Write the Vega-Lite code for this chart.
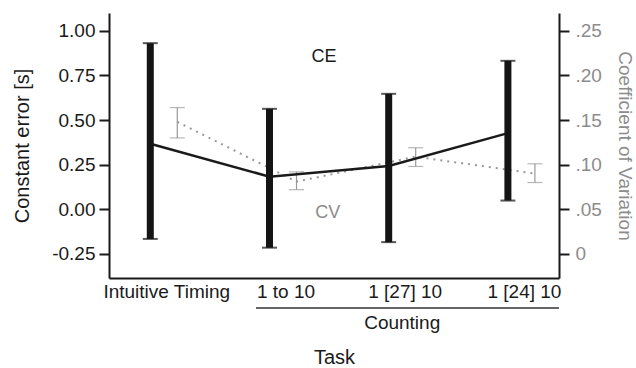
{
  "$schema": "https://vega.github.io/schema/vega-lite/v6.json",
  "autosize": {"type": "none"},
  "padding": {"left": 109, "top": 13, "right": 77, "bottom": 90},
  "width": 450,
  "height": 265,
  "config": {
    "font": "Liberation Sans",
    "view": {"stroke": null},
    "axis": {
      "grid": false,
      "domainColor": "#1a1a1a",
      "domainWidth": 2,
      "tickColor": "#1a1a1a",
      "tickWidth": 2,
      "labelFontSize": 19,
      "titleFontSize": 20,
      "titleFontWeight": "normal",
      "labelColor": "#1a1a1a",
      "titleColor": "#1a1a1a"
    },
    "axisX": {"ticks": false, "labelAngle": 0, "labelPadding": 4, "titlePadding": 46, "labelOffset": 3},
    "text": {"fontSize": 19}
  },
  "datasets": {
    "ce": [
      {"Task": "Intuitive Timing", "series": "CE", "mean": 0.367, "lo": -0.166, "hi": 0.931},
      {"Task": "1 to 10", "series": "CE", "mean": 0.183, "lo": -0.215, "hi": 0.563},
      {"Task": "1 [27] 10", "series": "CE", "mean": 0.243, "lo": -0.184, "hi": 0.647},
      {"Task": "1 [24] 10", "series": "CE", "mean": 0.427, "lo": 0.049, "hi": 0.832}
    ],
    "cv": [
      {"Task": "Intuitive Timing", "series": "CV", "mean": 0.148, "lo": 0.130, "hi": 0.164},
      {"Task": "1 to 10", "series": "CV", "mean": 0.081, "lo": 0.072, "hi": 0.092},
      {"Task": "1 [27] 10", "series": "CV", "mean": 0.109, "lo": 0.098, "hi": 0.119},
      {"Task": "1 [24] 10", "series": "CV", "mean": 0.090, "lo": 0.080, "hi": 0.101}
    ]
  },
  "encoding": {
    "x": {
      "field": "Task",
      "type": "nominal",
      "sort": null,
      "title": "Task",
      "scale": {"paddingInner": 0.547, "paddingOuter": 0.161, "align": 0.724}
    }
  },
  "layer": [
    {
      "layer": [
        {
          "data": {"name": "cv"},
          "mark": {"type": "line", "color": "#999999", "strokeWidth": 2, "strokeDash": [2, 5]},
          "encoding": {
            "xOffset": {"field": "series", "type": "nominal"},
            "y": {
              "field": "mean",
              "type": "quantitative",
              "scale": {"domain": [-0.027, 0.27], "nice": false, "zero": false},
              "axis": {
                "orient": "right",
                "title": "Coefficient of Variation",
                "values": [0, 0.025, 0.05, 0.075, 0.1, 0.125, 0.15, 0.175, 0.2, 0.225, 0.25],
                "labelExpr": "abs(datum.value*20 - round(datum.value*20)) < 0.001 ? (datum.value == 0 ? '0' : replace(format(datum.value, '.2f'), '0.', '.')) : ''",
                "tickSize": {"condition": {"test": "abs(datum.value*20 - round(datum.value*20)) < 0.001", "value": 10}, "value": 5},
                "labelColor": "#8c8c8c",
                "titleColor": "#8c8c8c",
                "titleFontSize": 19,
                "labelPadding": 6,
                "titlePadding": 13
              }
            }
          }
        },
        {
          "data": {"name": "cv"},
          "mark": {"type": "rule", "color": "#999999", "strokeWidth": 1.2},
          "encoding": {
            "xOffset": {"field": "series", "type": "nominal"},
            "y": {"field": "lo", "type": "quantitative", "scale": {"domain": [-0.027, 0.27], "nice": false, "zero": false}},
            "y2": {"field": "hi"}
          }
        },
        {
          "data": {"name": "cv"},
          "mark": {"type": "tick", "color": "#999999", "thickness": 1.2, "size": 15, "orient": "horizontal"},
          "encoding": {
            "xOffset": {"field": "series", "type": "nominal"},
            "y": {"field": "lo", "type": "quantitative", "scale": {"domain": [-0.027, 0.27], "nice": false, "zero": false}}
          }
        },
        {
          "data": {"name": "cv"},
          "mark": {"type": "tick", "color": "#999999", "thickness": 1.2, "size": 15, "orient": "horizontal"},
          "encoding": {
            "xOffset": {"field": "series", "type": "nominal"},
            "y": {"field": "hi", "type": "quantitative", "scale": {"domain": [-0.027, 0.27], "nice": false, "zero": false}}
          }
        },
        {
          "data": {"values": [{"label": "CV"}]},
          "mark": {"type": "text", "color": "#8c8c8c", "baseline": "middle", "fontSize": 18},
          "encoding": {
            "x": {"datum": "1 to 10", "type": "nominal", "bandPosition": 1.33},
            "y": {"datum": 0.046, "type": "quantitative", "scale": {"domain": [-0.027, 0.27], "nice": false, "zero": false}},
            "text": {"field": "label", "type": "nominal"}
          }
        }
      ]
    },
    {
      "layer": [
        {
          "data": {"name": "ce"},
          "mark": {"type": "line", "color": "#1a1a1a", "strokeWidth": 2.5},
          "encoding": {
            "xOffset": {"field": "series", "type": "nominal"},
            "y": {
              "field": "mean",
              "type": "quantitative",
              "scale": {"domain": [-0.385, 1.1], "nice": false, "zero": false},
              "axis": {
                "orient": "left",
                "title": "Constant error [s]",
                "values": [-0.25, -0.125, 0, 0.125, 0.25, 0.375, 0.5, 0.625, 0.75, 0.875, 1],
                "labelExpr": "abs(datum.value*4 - round(datum.value*4)) < 0.001 ? replace(format(datum.value, '.2f'), '\u2212', '-') : ''",
                "tickSize": {"condition": {"test": "abs(datum.value*4 - round(datum.value*4)) < 0.001", "value": 10}, "value": 5},
                "labelPadding": 4,
                "titlePadding": 19
              }
            }
          }
        },
        {
          "data": {"name": "ce"},
          "mark": {"type": "rule", "color": "#141414", "strokeWidth": 7},
          "encoding": {
            "xOffset": {"field": "series", "type": "nominal"},
            "y": {"field": "lo", "type": "quantitative", "scale": {"domain": [-0.385, 1.1], "nice": false, "zero": false}},
            "y2": {"field": "hi"}
          }
        },
        {
          "data": {"name": "ce"},
          "mark": {"type": "tick", "color": "#141414", "thickness": 2, "size": 15, "orient": "horizontal"},
          "encoding": {
            "xOffset": {"field": "series", "type": "nominal"},
            "y": {"field": "lo", "type": "quantitative", "scale": {"domain": [-0.385, 1.1], "nice": false, "zero": false}}
          }
        },
        {
          "data": {"name": "ce"},
          "mark": {"type": "tick", "color": "#141414", "thickness": 2, "size": 15, "orient": "horizontal"},
          "encoding": {
            "xOffset": {"field": "series", "type": "nominal"},
            "y": {"field": "hi", "type": "quantitative", "scale": {"domain": [-0.385, 1.1], "nice": false, "zero": false}}
          }
        },
        {
          "data": {"values": [{"label": "CE"}]},
          "mark": {"type": "text", "color": "#1a1a1a", "baseline": "middle", "fontSize": 18},
          "encoding": {
            "x": {"datum": "1 to 10", "type": "nominal", "bandPosition": 1.26},
            "y": {"datum": 0.854, "type": "quantitative", "scale": {"domain": [-0.385, 1.1], "nice": false, "zero": false}},
            "text": {"field": "label", "type": "nominal"}
          }
        },
        {
          "data": {"values": [{"Task": "1 to 10"}]},
          "mark": {"type": "rule", "color": "#333333", "strokeWidth": 1.5},
          "encoding": {
            "x": {"field": "Task", "type": "nominal", "bandPosition": 0},
            "x2": {"value": "width"},
            "y": {"datum": -0.553, "type": "quantitative", "scale": {"domain": [-0.385, 1.1], "nice": false, "zero": false}}
          }
        },
        {
          "data": {"values": [{"label": "Counting"}]},
          "mark": {"type": "text", "color": "#1a1a1a", "baseline": "middle"},
          "encoding": {
            "x": {"datum": "1 [27] 10", "type": "nominal"},
            "y": {"datum": -0.637, "type": "quantitative", "scale": {"domain": [-0.385, 1.1], "nice": false, "zero": false}},
            "text": {"field": "label", "type": "nominal"}
          }
        }
      ]
    }
  ],
  "resolve": {"scale": {"y": "independent"}, "axis": {"y": "independent"}}
}
